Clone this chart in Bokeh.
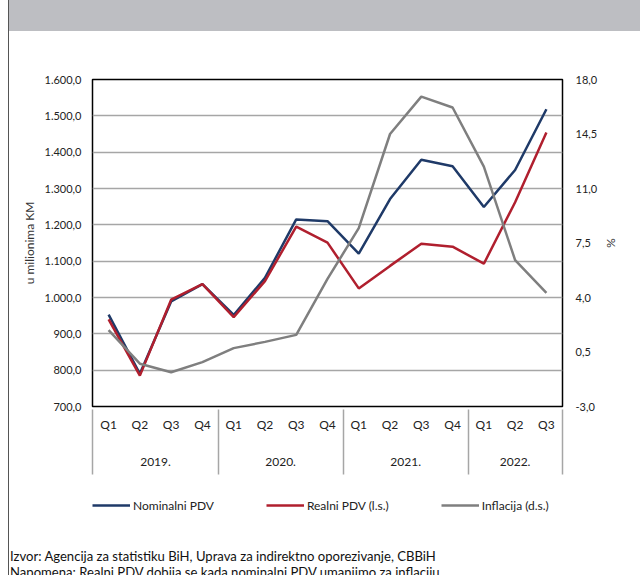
from bokeh.plotting import figure
from bokeh.models import (FactorRange, Range1d, LinearAxis, FixedTicker, Legend, LegendItem,
                          Div, ColumnDataSource)
from bokeh.layouts import column
from bokeh.embed import file_html
from bokeh.resources import INLINE

# ---------------- data ----------------
years = ["2019.", "2020.", "2021.", "2022."]
quarters_per_year = [["Q1", "Q2", "Q3", "Q4"], ["Q1", "Q2", "Q3", "Q4"],
                     ["Q1", "Q2", "Q3", "Q4"], ["Q1", "Q2", "Q3"]]
nominalni_pdv = [953, 790, 989, 1037, 952, 1054, 1215, 1210, 1121, 1271, 1379, 1361, 1249, 1351, 1518]
realni_pdv = [940, 785, 994, 1037, 946, 1045, 1195, 1151, 1025, 1087, 1148, 1140, 1093, 1262, 1454]
inflacija = [1.9, -0.25, -0.8, -0.15, 0.75, 1.15, 1.6, 5.2, 8.45, 14.5, 16.9, 16.2, 12.4, 6.4, 4.3]

left_ticks = [700, 800, 900, 1000, 1100, 1200, 1300, 1400, 1500, 1600]
left_tick_labels = ["700,0", "800,0", "900,0", "1.000,0", "1.100,0", "1.200,0",
                    "1.300,0", "1.400,0", "1.500,0", "1.600,0"]
right_ticks = [-3.0, 0.5, 4.0, 7.5, 11.0, 14.5, 18.0]
right_tick_labels = ["-3,0", "0,5", "4,0", "7,5", "11,0", "14,5", "18,0"]

legend_labels = ["Nominalni PDV", "Realni PDV (l.s.)", "Inflacija (d.s.)"]
y_label_left = "u milionima KM"
y_label_right = "%"
source_text = "Izvor: Agencija za statistiku BiH, Uprava za indirektno oporezivanje, CBBiH"
note_text = "Napomena: Realni PDV dobija se kada nominalni PDV umanjimo za inflaciju."

# ---------------- styling ----------------
FONT = "Lato"
C_NOM = "#1f3a68"
C_REAL = "#b01f2e"
C_INF = "#7f7f7f"
GRID = "#a6a6a6"
TXT = "#222222"
W = 631


def two_row(label):
    # a trailing empty line gives each axis label row the same height as the reference
    return label + "\n"


factors = [(two_row(y), two_row(q)) for y, qs in zip(years, quarters_per_year) for q in qs]
# empty edge groups (trimmed away by negative padding) so that the axis draws
# group separators at both ends of the category axis as well
edge_factors = [(" ", "\u2009"), ("  ", "\u2009\u2009")]
x_range = FactorRange(*([edge_factors[0]] + factors + [edge_factors[1]]),
                      factor_padding=0, group_padding=0,
                      range_padding=-0.985, range_padding_units="absolute")

src = ColumnDataSource(data=dict(x=factors, nom=nominalni_pdv, real=realni_pdv, inf=inflacija))

p = figure(width=W, height=457, output_backend="svg", toolbar_location=None,
           x_range=x_range, y_range=Range1d(left_ticks[0], left_ticks[-1]),
           min_border_left=83, min_border_right=78, min_border_top=48, min_border_bottom=82,
           margin=0)
p.extra_y_ranges = {"right": Range1d(right_ticks[0], right_ticks[-1])}

p.outline_line_color = "black"
p.outline_line_width = 1.5
p.background_fill_color = "white"
p.border_fill_color = "white"

# lines
r_nom = p.line("x", "nom", source=src, color=C_NOM, line_width=2.5)
r_real = p.line("x", "real", source=src, color=C_REAL, line_width=2.5)
r_inf = p.line("x", "inf", source=src, color=C_INF, line_width=2.5, y_range_name="right")

# x axis
xa = p.xaxis[0]
xa.axis_line_color = None
xa.major_tick_line_color = None
xa.minor_tick_line_color = None
xa.major_label_text_font = FONT
xa.major_label_text_font_size = "12px"
xa.major_label_text_color = TXT
xa.major_label_text_line_height = 1.0
xa.group_text_font = FONT
xa.group_text_font_size = "12px"
xa.group_text_color = TXT
xa.group_text_font_style = "normal"
xa.group_text_line_height = 1.0
xa.separator_line_color = GRID
xa.separator_line_width = 1.5
xa.major_label_standoff = 4
p.xgrid.grid_line_color = None

# left axis
ya = p.yaxis[0]
ya.ticker = FixedTicker(ticks=left_ticks)
ya.major_label_overrides = dict(zip(left_ticks, left_tick_labels))
ya.axis_line_color = None
ya.major_tick_line_color = None
ya.minor_tick_line_color = None
ya.major_label_text_font = FONT
ya.major_label_text_font_size = "11px"
ya.major_label_text_color = TXT
ya.major_label_standoff = 5
ya.axis_label = y_label_left
ya.axis_label_text_font = FONT
ya.axis_label_text_font_size = "12px"
ya.axis_label_text_font_style = "normal"
ya.axis_label_text_color = "#333333"
ya.axis_label_standoff = 5
p.ygrid.ticker = FixedTicker(ticks=left_ticks)
p.ygrid.grid_line_color = GRID
p.ygrid.grid_line_width = 1.5

# right axis
ra = LinearAxis(y_range_name="right", ticker=FixedTicker(ticks=right_ticks))
ra.major_label_overrides = dict(zip(right_ticks, right_tick_labels))
ra.axis_line_color = None
ra.major_tick_line_color = None
ra.minor_tick_line_color = None
ra.major_label_text_font = FONT
ra.major_label_text_font_size = "11px"
ra.major_label_text_color = TXT
ra.major_label_standoff = 7
ra.axis_label = y_label_right
ra.axis_label_text_font = FONT
ra.axis_label_text_font_size = "12px"
ra.axis_label_text_font_style = "normal"
ra.axis_label_text_color = "#333333"
ra.axis_label_standoff = 4
p.add_layout(ra, "right")

# legend strip (separate small canvas holding only the legend)
pl = figure(width=W, height=36, output_backend="svg", toolbar_location=None,
            x_range=Range1d(0, 1), y_range=Range1d(0, 1),
            x_axis_location=None, y_axis_location=None, min_border=0, margin=0)
pl.outline_line_color = None
pl.xgrid.visible = False
pl.ygrid.visible = False
nan = float("nan")
swatches = [pl.line(x=[nan], y=[nan], color=c, line_width=2.5) for c in (C_NOM, C_REAL, C_INF)]
lg = Legend(items=[LegendItem(label=lab, renderers=[r]) for r, lab in zip(swatches, legend_labels)],
            location=(0, 11), orientation="horizontal", padding=0, margin=0, spacing=52,
            glyph_width=38, glyph_height=16, label_standoff=3,
            label_text_font=FONT, label_text_font_size="12px", label_text_color=TXT,
            border_line_color=None, background_fill_alpha=0)
pl.add_layout(lg, "center")

header = Div(text="", width=W, height=31, margin=0,
             styles={"background-color": "#bdbec2"})
footer = Div(text=f"<div style='font-family:{FONT};font-size:13.1px;line-height:16px;color:#111;"
                  f"padding-top:24px;padding-left:1px;white-space:nowrap'>{source_text}<br>{note_text}</div>",
             width=W, height=51, margin=0, styles={"overflow": "hidden"})

layout = column(header, p, pl, footer, spacing=0,
                styles={"margin-left": "8px", "border-left": "1.5px solid #555555"})

open("out.html", "w").write(file_html(layout, INLINE))
